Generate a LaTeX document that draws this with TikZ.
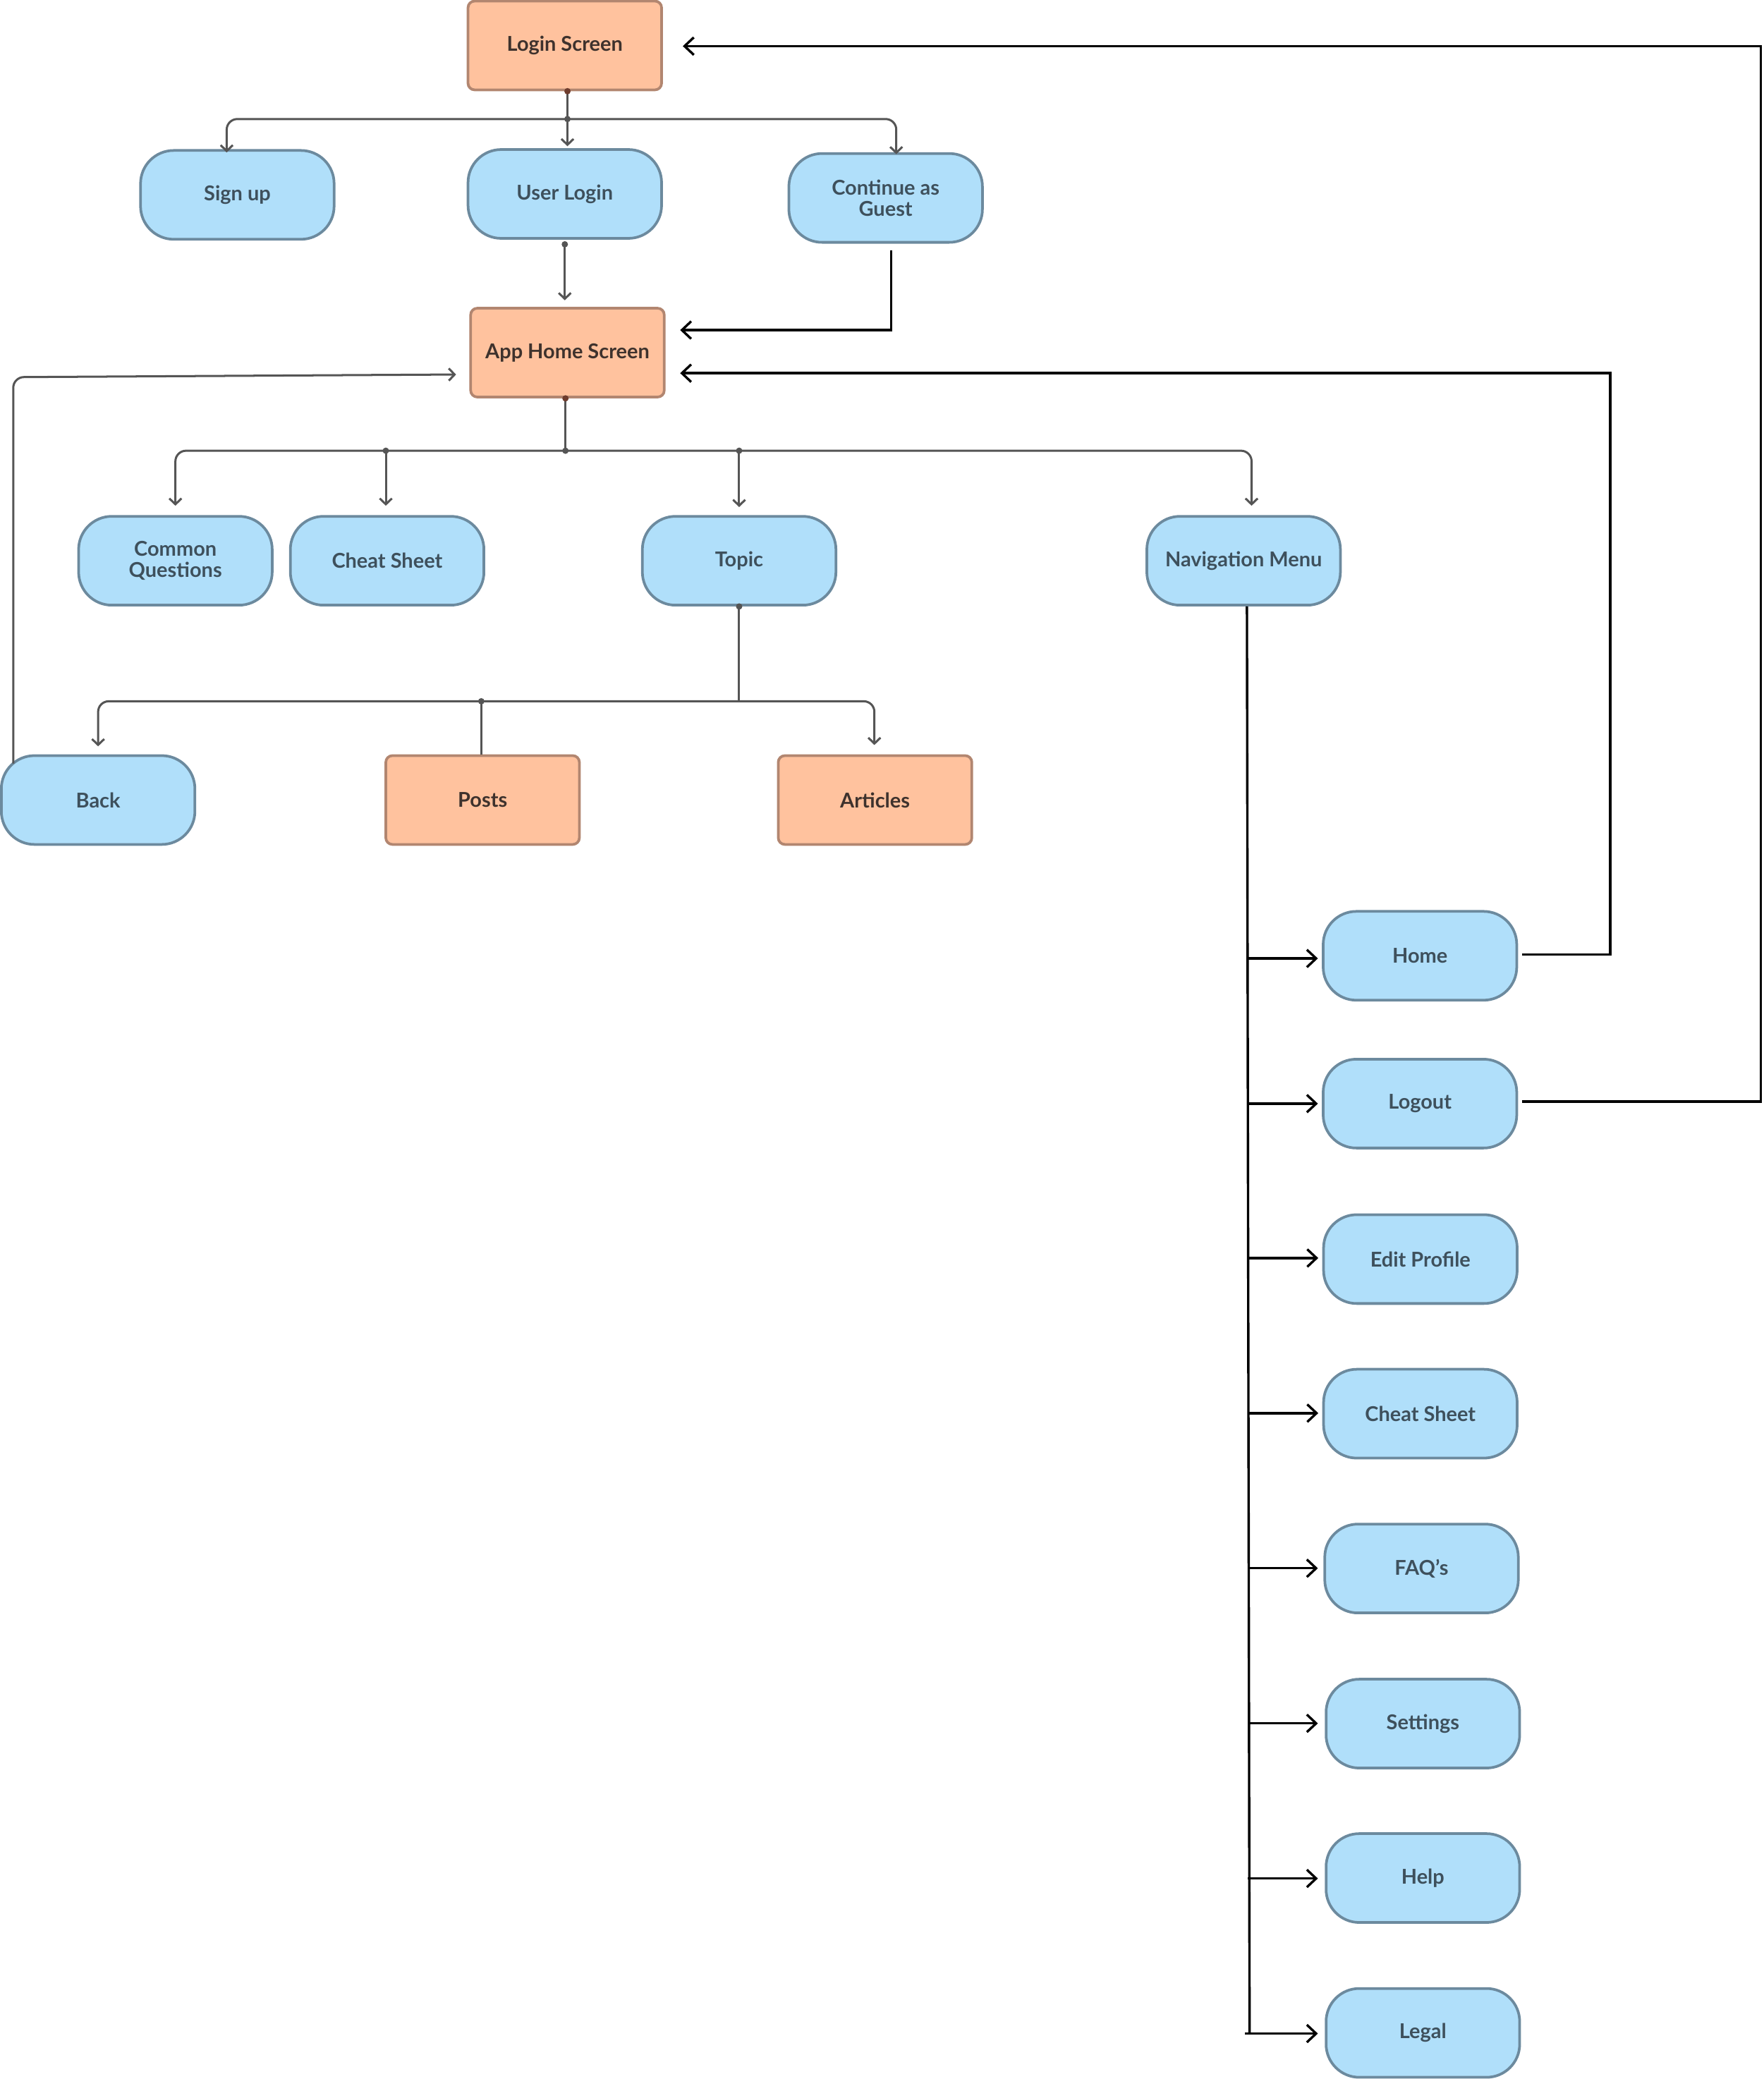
\documentclass[tikz,border=0pt]{standalone}
\usepackage{fontspec}
\setmainfont{Lato}
\usetikzlibrary{arrows.meta,calc}
\definecolor{bluefill}{RGB}{176,223,250}
\definecolor{blueline}{RGB}{108,138,158}
\definecolor{bluetext}{RGB}{62,80,92}
\definecolor{orfill}{RGB}{255,194,158}
\definecolor{orline}{RGB}{178,134,112}
\definecolor{ortext}{RGB}{62,50,45}
\definecolor{conn}{RGB}{85,85,85}
\definecolor{dotbrown}{RGB}{110,60,45}
\begin{document}
\begin{tikzpicture}[x=0.5pt,y=-0.5pt,
  box/.style={minimum width=73pt,minimum height=33.5pt,line width=1pt,align=center,inner sep=1pt,font=\fontsize{7.7}{8.0}\selectfont\bfseries},
  bluebox/.style={box,rounded corners=12.5pt,fill=bluefill,draw=blueline,text=bluetext},
  orbox/.style={box,rounded corners=2.5pt,fill=orfill,draw=orline,text=ortext},
  gconn/.style={draw=conn,line width=0.8pt,rounded corners=4pt},
  garrow/.style={gconn,-{Straight Barb[length=2.2pt,width=4.6pt]}},
  bconn/.style={draw=black,line width=0.9pt},
  barrow/.style={bconn,-{Straight Barb[length=3.5pt,width=6.6pt]}},
  ]
\useasboundingbox (0,0) rectangle (1330,1568.3);

% nodes
\node[orbox] (login) at (426,34.3) {Login Screen};
\node[bluebox] (signup) at (179,147) {Sign up};
\node[bluebox] (ulogin) at (426,146.3) {User Login};
\node[bluebox] (guest) at (668,149.3) {Continue as\\Guest};
\node[orbox] (apphome) at (428,266) {App Home Screen};
\node[bluebox] (cq) at (132.3,423) {Common\\Questions};
\node[bluebox] (cs) at (292,423) {Cheat Sheet};
\node[bluebox] (topic) at (557.5,423) {Topic};
\node[bluebox] (nav) at (938,423) {Navigation Menu};
\node[bluebox] (back) at (74,603.5) {Back};
\node[orbox] (posts) at (364,603.5) {Posts};
\node[orbox] (articles) at (660,603.5) {Articles};
\node[bluebox] (home) at (1071,721) {Home};
\node[bluebox] (logout) at (1071,832.5) {Logout};
\node[bluebox] (edit) at (1071.3,949.8) {Edit Profile};
\node[bluebox] (cs2) at (1071.3,1066.4) {Cheat Sheet};
\node[bluebox] (faq) at (1072.2,1183.2) {FAQ’s};
\node[bluebox] (settings) at (1073.2,1300.2) {Settings};
\node[bluebox] (help) at (1073.2,1416.7) {Help};
\node[bluebox] (legal) at (1073.2,1533.5) {Legal};

% Login screen -> options
\coordinate (l0) at ($(login.south)+(2,0)$);
\coordinate (j1) at ($(l0)+(0,21)$);
\draw[gconn] (l0) -- (j1);
\draw[garrow] (j1) -| ($(signup.north)+(-8,2.5)$);
\draw[garrow] (j1) -- ($(ulogin.north)+(2,-1.5)$);
\draw[garrow] (j1) -| ($(guest.north)+(8,1.5)$);
\fill[dotbrown] (l0) circle (1.2pt);
\fill[conn] (j1) circle (1.2pt);

% User login -> App home
\coordinate (u1) at ($(ulogin.south)+(0,3.5)$);
\draw[garrow] (u1) -- ($(apphome.north)+(-2,-5)$);
\fill[conn] (u1) circle (1.2pt);

% Guest -> App home
\draw[barrow] ($(guest.south)+(4,5)$) |- ($(apphome.east)+(11,-17)$);

% App home -> children
\coordinate (a0) at ($(apphome.south)+(-1.5,0)$);
\coordinate (j2) at ($(a0)+(0,39.5)$);
\draw[gconn] (a0) -- (j2);
\draw[garrow] (j2) -| ($(cq.north)+(0,-7)$);
\coordinate (dcs) at (j2 -| cs.north);
\draw[garrow] ($(dcs)+(-1,0)$) -- ($(cs.north)+(-1,-7)$);
\coordinate (dtop) at (j2 -| topic.north);
\draw[garrow] (dtop) -- ($(topic.north)+(0,-6)$);
\draw[garrow] (j2) -| ($(nav.north)+(6,-7)$);
\fill[dotbrown] (a0) circle (1.2pt);
\fill[conn] (j2) circle (1.2pt);
\fill[conn] ($(dcs)+(-1,0)$) circle (1.2pt);
\fill[conn] (dtop) circle (1.2pt);

% Topic -> children
\coordinate (t0) at (topic.south);
\coordinate (j3) at ($(t0)+(0,71.5)$);
\draw[gconn] (t0) -- (j3);
\draw[garrow] (j3) -| ($(back.north)+(0,-6)$);
\draw[garrow] (j3) -| ($(articles.north)+(-0.5,-7)$);
\coordinate (dp) at ($(j3 -| posts.north)+(-1,0)$);
\draw[gconn] (dp) -- (dp |- posts.north);
\fill[conn] (t0) circle (1.2pt);
\fill[conn] (dp) circle (1.2pt);

% Back -> App home
\draw[garrow] ($(back.north west)+(10,7)$) -- (10,284.5) -- ($(apphome.west)+(-10,16.5)$);

% Home -> App home
\draw[barrow] ($(home.east)+(3,-1)$) -| (1214.5,281.5) -- ($(apphome.east)+(11,15.5)$);

% Logout -> Login
\draw[barrow] ($(logout.east)+(3,-1.5)$) -| (1328,34.8) -- ($(login.east)+(15,0.5)$);

% Navigation menu trunk
\coordinate (n0) at ($(nav.south)+(2.5,0)$);
\coordinate (nend) at (942.5,1534);
\draw[bconn] (n0) -- (nend);
\draw[barrow] ($(home.west)+(-56,2)$) -- ($(home.west)+(-3,2)$);
\draw[barrow] ($(logout.west)+(-56,0)$) -- ($(logout.west)+(-3,0)$);
\draw[barrow] ($(edit.west)+(-56,-0.8)$) -- ($(edit.west)+(-3,-0.8)$);
\draw[barrow] ($(cs2.west)+(-56,-0.4)$) -- ($(cs2.west)+(-3,-0.4)$);
\draw[barrow] ($(faq.west)+(-57,-0.2)$) -- ($(faq.west)+(-4.2,-0.2)$);
\draw[barrow] ($(settings.west)+(-58,-0.2)$) -- ($(settings.west)+(-5.2,-0.2)$);
\draw[barrow] ($(help.west)+(-58,0.3)$) -- ($(help.west)+(-5.2,0.3)$);
\draw[barrow] ($(legal.west)+(-60,0.5)$) -- ($(legal.west)+(-5.2,0.5)$);
\end{tikzpicture}
\end{document}
